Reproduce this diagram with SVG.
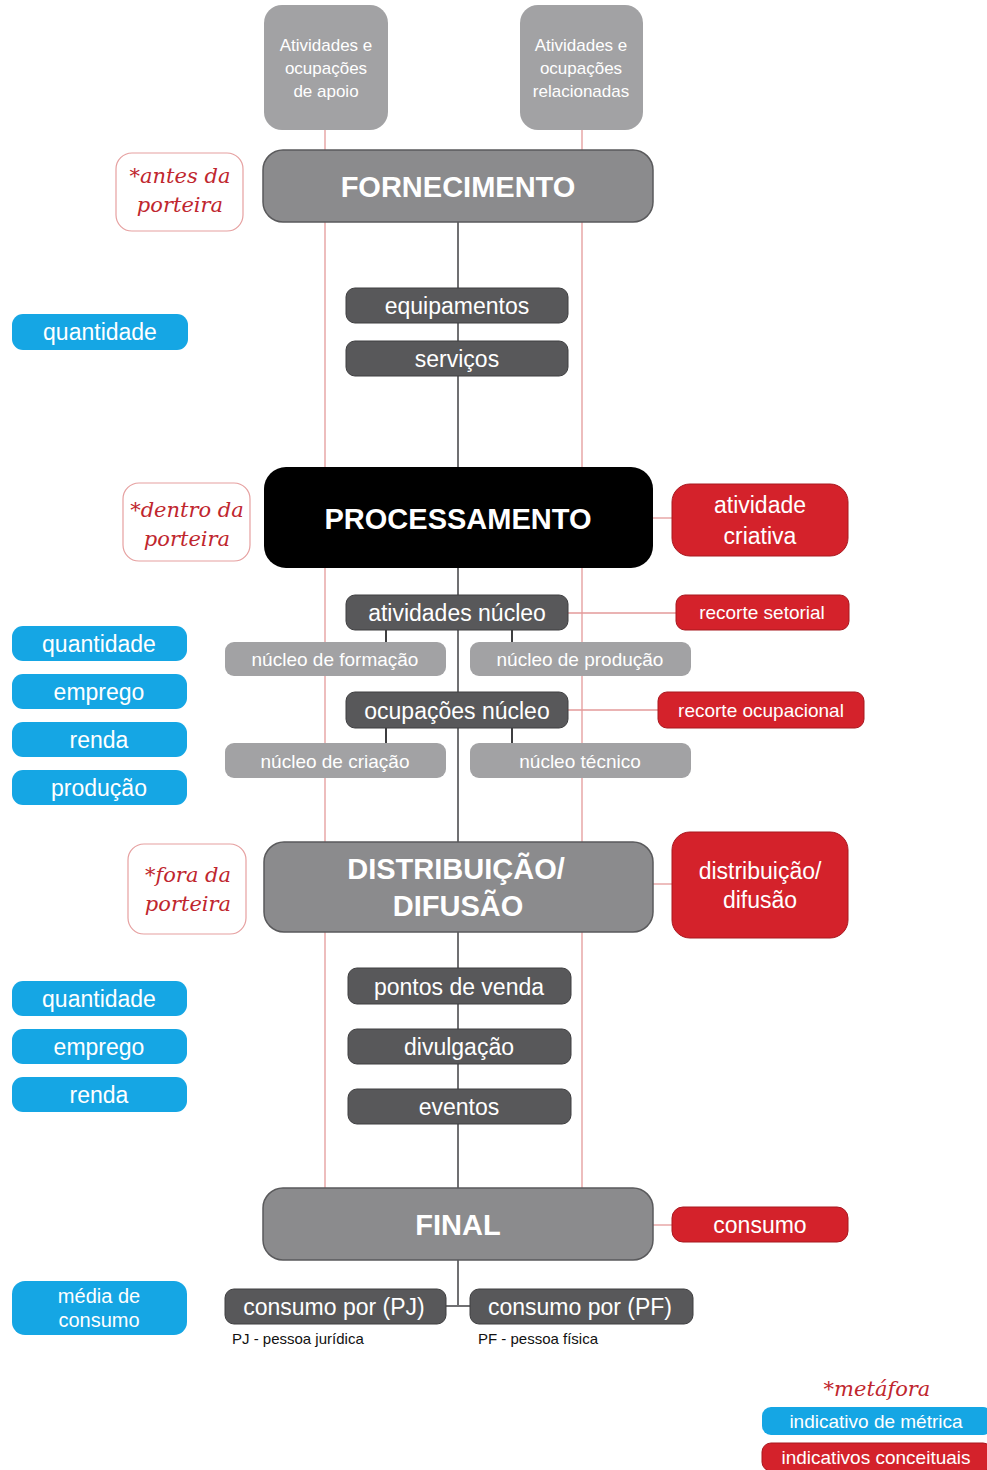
<svg xmlns="http://www.w3.org/2000/svg" width="987" height="1470" viewBox="0 0 987 1470">
<defs>
<style>
text{font-family:"Liberation Sans",Arial,sans-serif;text-anchor:middle;fill:#fff}
.top{fill:#a2a2a4}
.main{fill:#8b8b8d;stroke:#5a5a5c;stroke-width:1.5}
.dark{fill:#58585a;stroke:#3e3e40;stroke-width:1}
.light{fill:#a2a2a4}
.blue{fill:#15a6e4}
.red{fill:#d4222b;stroke:#a8181f;stroke-width:1}
.meta{fill:#fff;stroke:#e6a0a0;stroke-width:1.2}
.hand{font-family:"DejaVu Serif","Liberation Serif",serif;font-style:italic;fill:#c0262e;font-size:21px}
.big{font-weight:bold;font-size:29px}
.t22{font-size:23px}
.t18{font-size:19px}
.t16{font-size:17px}
.redline{stroke:#e39a9a;stroke-width:1.3;fill:none}
.grayline{stroke:#707072;stroke-width:2;fill:none}
.darkline{stroke:#3e3e40;stroke-width:2;fill:none}
</style>
</defs>
<rect width="987" height="1470" fill="#fff"/>
<g id="connectors">
<line class="redline" x1="325" y1="130" x2="325" y2="1188"/>
<line class="redline" x1="582" y1="130" x2="582" y2="1188"/>
<line class="grayline" x1="458" y1="222" x2="458" y2="1306"/>
<line class="grayline" x1="446" y1="1306" x2="470" y2="1306"/>
<line class="redline" x1="653" y1="518" x2="672" y2="518"/>
<line class="redline" x1="568" y1="613" x2="676" y2="613"/>
<line class="redline" x1="568" y1="710" x2="658" y2="710"/>
<line class="redline" x1="653" y1="884" x2="672" y2="884"/>
<line class="redline" x1="653" y1="1225" x2="672" y2="1225"/>
<line class="darkline" x1="386" y1="630" x2="386" y2="642"/>
<line class="darkline" x1="512" y1="630" x2="512" y2="642"/>
<line class="darkline" x1="386" y1="728" x2="386" y2="743"/>
<line class="darkline" x1="512" y1="728" x2="512" y2="743"/>
</g>
<g id="top-apoio"><rect class="top" x="264" y="5" width="124" height="125" rx="18"/>
<text class="t16" x="326" y="51">Atividades e</text><text class="t16" x="326" y="74">ocupações</text><text class="t16" x="326" y="97">de apoio</text></g>
<g id="top-relacionadas"><rect class="top" x="520" y="5" width="123" height="125" rx="18"/>
<text class="t16" x="581" y="51">Atividades e</text><text class="t16" x="581" y="74">ocupações</text><text class="t16" x="581" y="97">relacionadas</text></g>
<g id="fornecimento"><rect class="main" x="263" y="150" width="390" height="72" rx="20"/><text class="big" x="458" y="197">FORNECIMENTO</text></g>
<g id="meta-antes"><rect class="meta" x="116" y="153" width="127" height="78" rx="16"/><text class="hand" x="180" y="183">*antes da</text><text class="hand" x="180" y="212">porteira</text></g>
<g id="equipamentos"><rect class="dark" x="346" y="288" width="222" height="35" rx="9"/><text class="t22" x="457" y="314">equipamentos</text></g>
<g id="servicos"><rect class="dark" x="346" y="341" width="222" height="35" rx="9"/><text class="t22" x="457" y="367">serviços</text></g>
<g id="q1"><rect class="blue" x="12" y="314" width="176" height="36" rx="11"/><text class="t22" x="100" y="340">quantidade</text></g>
<g id="processamento"><rect x="264" y="467" width="389" height="101" rx="22" fill="#000"/><text class="big" x="458" y="529">PROCESSAMENTO</text></g>
<g id="meta-dentro"><rect class="meta" x="123" y="483" width="127" height="78" rx="16"/><text class="hand" x="187" y="517">*dentro da</text><text class="hand" x="187" y="546">porteira</text></g>
<g id="atividade-criativa"><rect class="red" x="672" y="484" width="176" height="72" rx="18"/><text class="t22" x="760" y="513">atividade</text><text class="t22" x="760" y="544">criativa</text></g>
<g id="atividades-nucleo"><rect class="dark" x="346" y="595" width="222" height="35" rx="9"/><text class="t22" x="457" y="621">atividades núcleo</text></g>
<g id="recorte-setorial"><rect class="red" x="676" y="595" width="173" height="35" rx="9"/><text class="t18" x="762" y="619">recorte setorial</text></g>
<g id="nucleo-formacao"><rect class="light" x="225" y="642" width="221" height="34" rx="9"/><text class="t18" x="335" y="666">núcleo de formação</text></g>
<g id="nucleo-producao"><rect class="light" x="470" y="642" width="221" height="34" rx="9"/><text class="t18" x="580" y="666">núcleo de produção</text></g>
<g id="ocupacoes-nucleo"><rect class="dark" x="346" y="692" width="222" height="36" rx="9"/><text class="t22" x="457" y="719">ocupações núcleo</text></g>
<g id="recorte-ocupacional"><rect class="red" x="658" y="692" width="206" height="36" rx="9"/><text class="t18" x="761" y="717">recorte ocupacional</text></g>
<g id="nucleo-criacao"><rect class="light" x="225" y="743" width="221" height="35" rx="9"/><text class="t18" x="335" y="768">núcleo de criação</text></g>
<g id="nucleo-tecnico"><rect class="light" x="470" y="743" width="221" height="35" rx="9"/><text class="t18" x="580" y="768">núcleo técnico</text></g>
<g id="q2"><rect class="blue" x="12" y="626" width="175" height="35" rx="11"/><text class="t22" x="99" y="652">quantidade</text></g>
<g id="e2"><rect class="blue" x="12" y="674" width="175" height="35" rx="11"/><text class="t22" x="99" y="700">emprego</text></g>
<g id="r2"><rect class="blue" x="12" y="722" width="175" height="35" rx="11"/><text class="t22" x="99" y="748">renda</text></g>
<g id="p2"><rect class="blue" x="12" y="770" width="175" height="35" rx="11"/><text class="t22" x="99" y="796">produção</text></g>
<g id="distribuicao"><rect class="main" x="264" y="842" width="389" height="90" rx="20"/><text class="big" x="456" y="879">DISTRIBUIÇÃO/</text><text class="big" x="458" y="916">DIFUSÃO</text></g>
<g id="meta-fora"><rect class="meta" x="128" y="844" width="118" height="90" rx="16"/><text class="hand" x="188" y="882">*fora da</text><text class="hand" x="188" y="911">porteira</text></g>
<g id="distribuicao-difusao"><rect class="red" x="672" y="832" width="176" height="106" rx="18"/><text class="t22" x="760" y="879">distribuição/</text><text class="t22" x="760" y="908">difusão</text></g>
<g id="pontos"><rect class="dark" x="348" y="968" width="223" height="36" rx="9"/><text class="t22" x="459" y="995">pontos de venda</text></g>
<g id="divulgacao"><rect class="dark" x="348" y="1029" width="223" height="35" rx="9"/><text class="t22" x="459" y="1055">divulgação</text></g>
<g id="eventos"><rect class="dark" x="348" y="1089" width="223" height="35" rx="9"/><text class="t22" x="459" y="1115">eventos</text></g>
<g id="q3"><rect class="blue" x="12" y="981" width="175" height="35" rx="11"/><text class="t22" x="99" y="1007">quantidade</text></g>
<g id="e3"><rect class="blue" x="12" y="1029" width="175" height="35" rx="11"/><text class="t22" x="99" y="1055">emprego</text></g>
<g id="r3"><rect class="blue" x="12" y="1077" width="175" height="35" rx="11"/><text class="t22" x="99" y="1103">renda</text></g>
<g id="final"><rect class="main" x="263" y="1188" width="390" height="72" rx="20"/><text class="big" x="458" y="1235">FINAL</text></g>
<g id="consumo"><rect class="red" x="672" y="1207" width="176" height="35" rx="11"/><text class="t22" x="760" y="1233">consumo</text></g>
<g id="consumo-pj"><rect class="dark" x="225" y="1289" width="221" height="35" rx="9"/><text class="t22" x="334" y="1315">consumo por (PJ)</text></g>
<g id="consumo-pf"><rect class="dark" x="470" y="1289" width="223" height="35" rx="9"/><text class="t22" x="580" y="1315">consumo por (PF)</text></g>
<text x="232" y="1344" style="font-size:15px;fill:#111;text-anchor:start">PJ - pessoa jurídica</text>
<text x="478" y="1344" style="font-size:15px;fill:#111;text-anchor:start">PF - pessoa física</text>
<g id="media"><rect class="blue" x="12" y="1281" width="175" height="54" rx="13"/><text x="99" y="1303" style="font-size:20px">média de</text><text x="99" y="1327" style="font-size:20px">consumo</text></g>
<g id="legend">
<text class="hand" x="877" y="1396">*metáfora</text>
<rect class="blue" x="762" y="1407" width="230" height="28" rx="9"/><text x="876" y="1428" style="font-size:19px">indicativo de métrica</text>
<rect class="red" x="762" y="1443" width="230" height="28" rx="9"/><text x="876" y="1464" style="font-size:19px">indicativos conceituais</text>
</g>
</svg>
